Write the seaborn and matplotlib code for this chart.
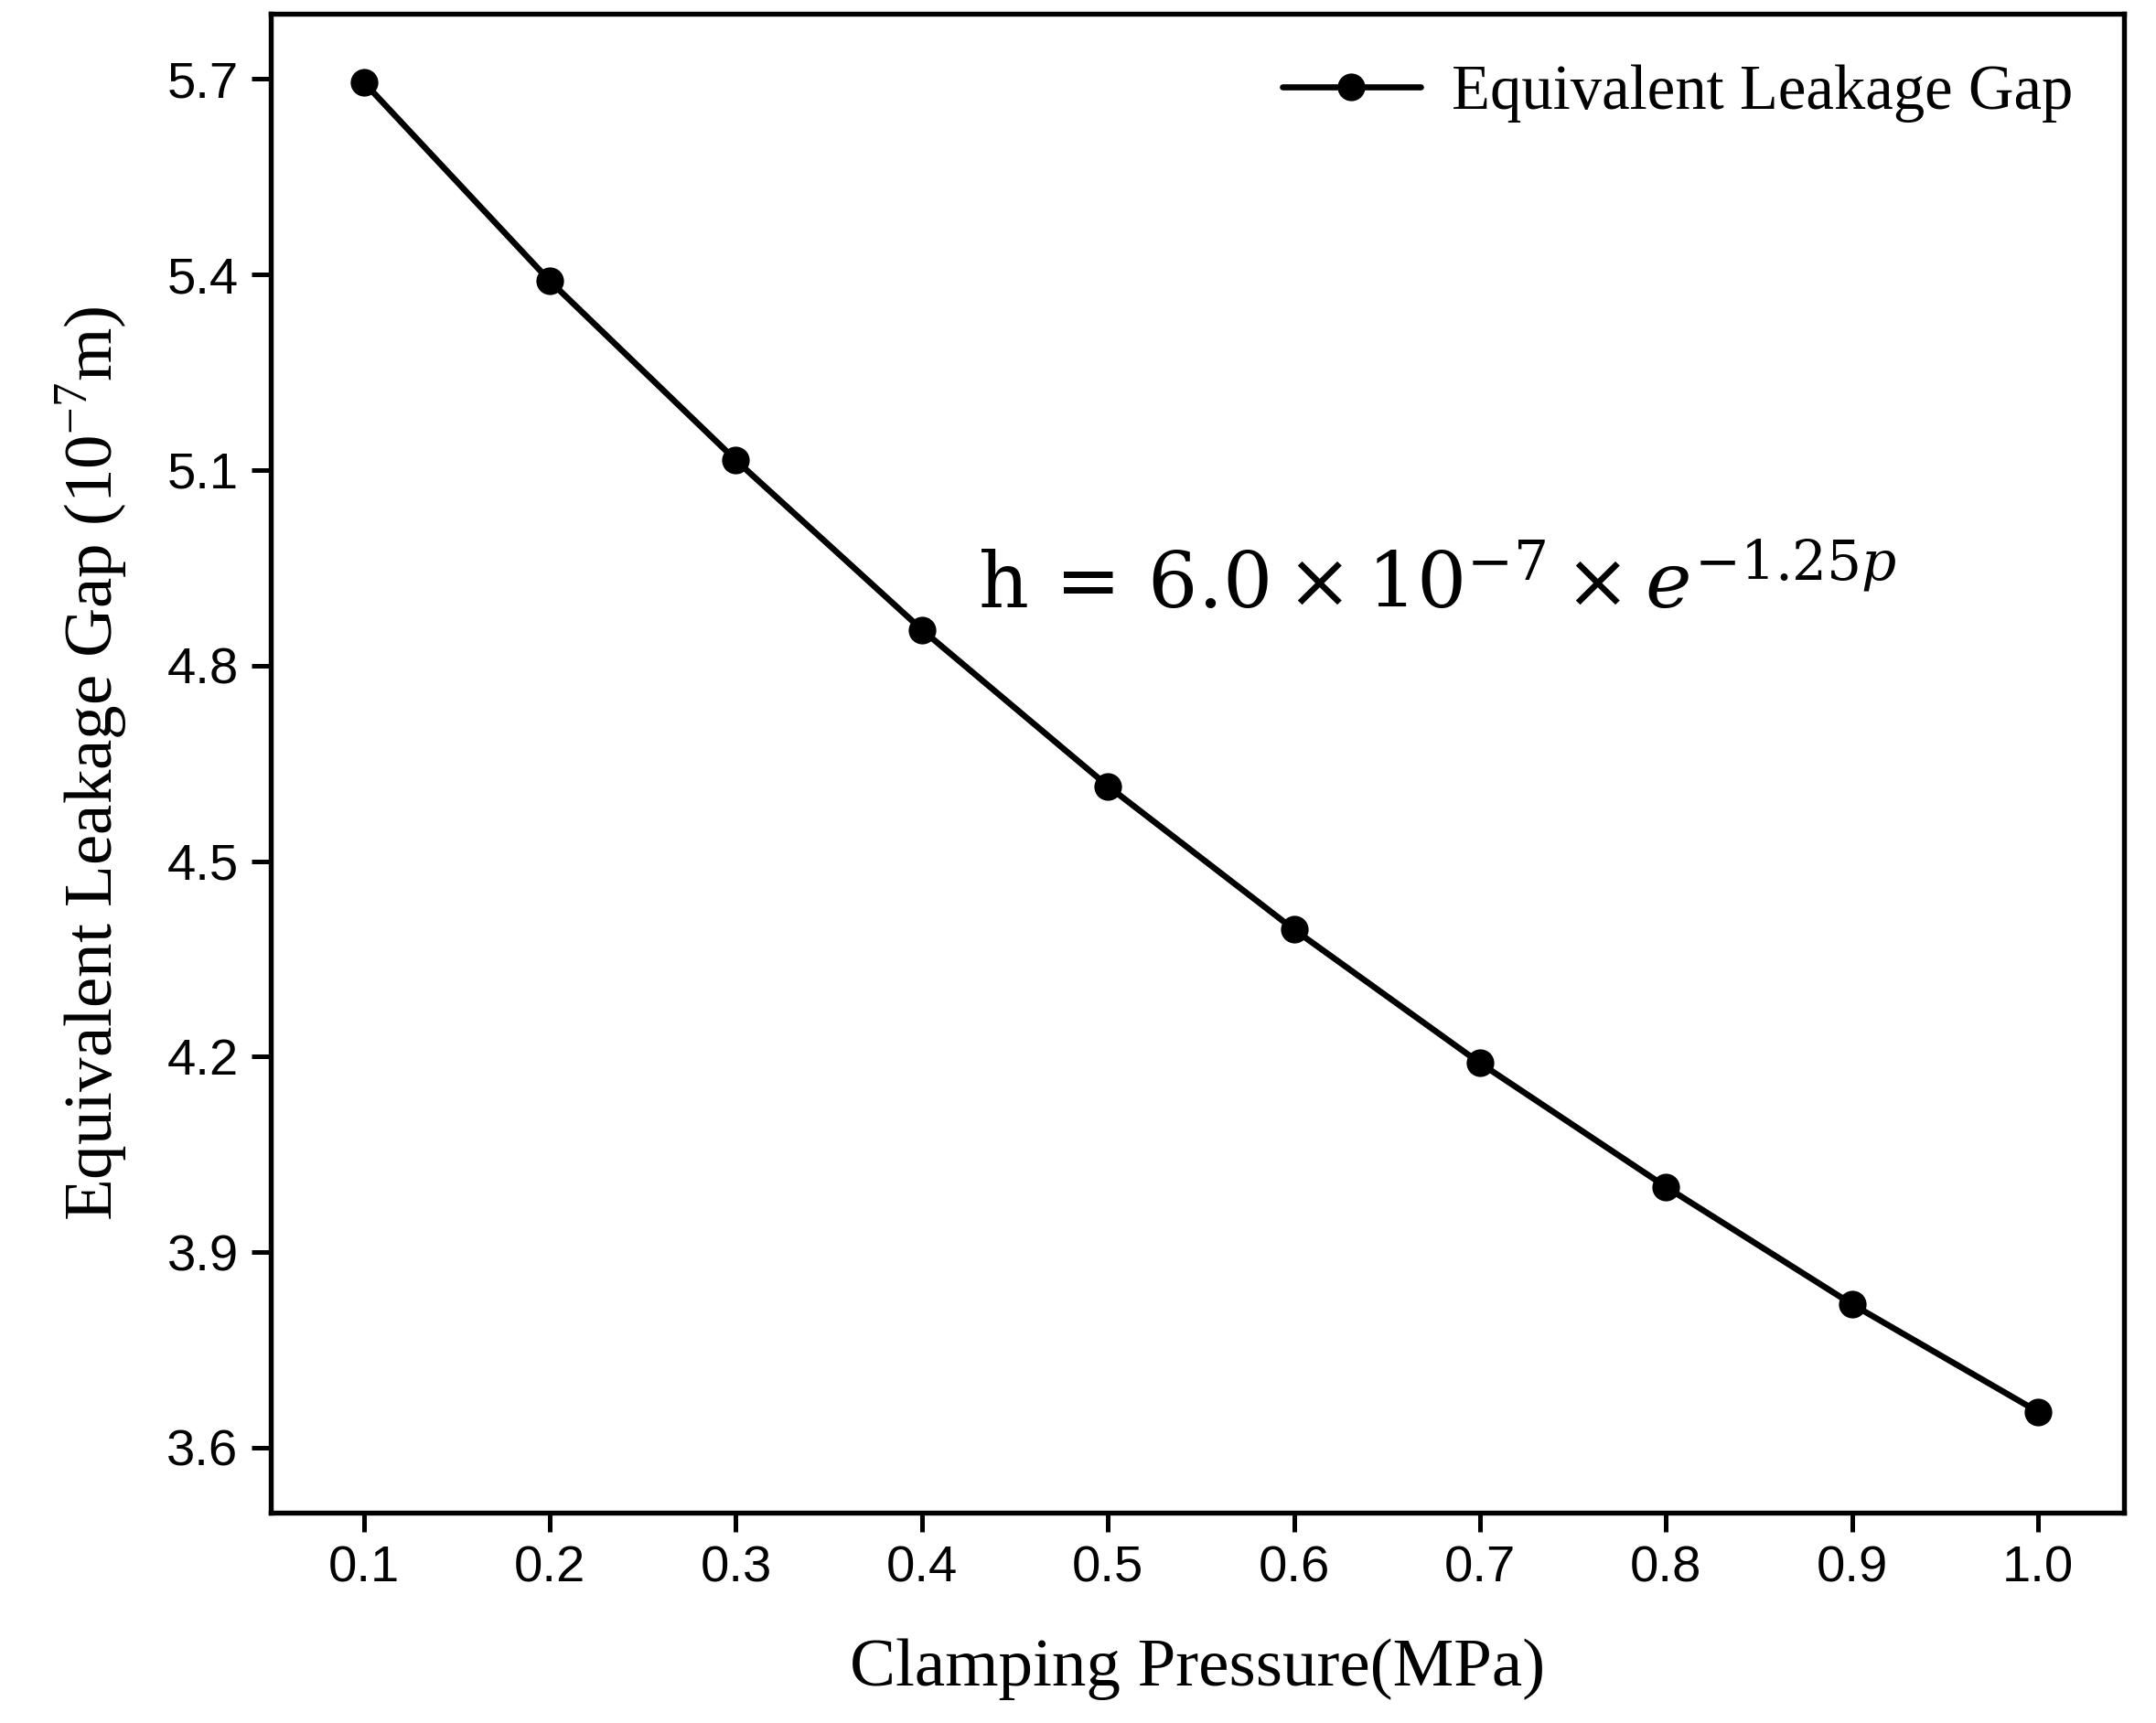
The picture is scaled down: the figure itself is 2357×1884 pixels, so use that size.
import matplotlib
matplotlib.use("Agg")
import matplotlib.pyplot as plt
import seaborn as sns
import pandas as pd

pressure = [0.1, 0.2, 0.3, 0.4, 0.5, 0.6, 0.7, 0.8, 0.9, 1.0]
gap = [5.695, 5.39, 5.115, 4.855, 4.615, 4.395, 4.19, 4.0, 3.82, 3.655]
xticks = [0.1, 0.2, 0.3, 0.4, 0.5, 0.6, 0.7, 0.8, 0.9, 1.0]
yticks = [3.6, 3.9, 4.2, 4.5, 4.8, 5.1, 5.4, 5.7]

sns.set_style("ticks")
plt.rcParams['font.family'] = ['Liberation Sans', 'DejaVu Sans']
plt.rcParams['mathtext.fontset'] = 'dejavuserif'
plt.rcParams['text.color'] = 'black'
plt.rcParams['axes.labelcolor'] = 'black'
plt.rcParams['xtick.color'] = 'black'
plt.rcParams['ytick.color'] = 'black'

df = pd.DataFrame({'p': pressure, 'h': gap})

fig = plt.figure(figsize=(2357 / 300, 1884 / 300), dpi=300)
ax = fig.add_axes([0.1256, 0.122, 0.985 - 0.1256, 0.992 - 0.122])
sns.lineplot(data=df, x='p', y='h', ax=ax, color='black', linewidth=1.6,
             marker='o', markersize=6.5, markeredgecolor='black',
             label='Equivalent Leakage Gap')

ax.set_xlim(0.05, 1.046)
ax.set_ylim(3.50, 5.80)
ax.set_xticks(xticks)
ax.set_xticklabels([f'{v:.1f}' for v in xticks])
ax.set_yticks(yticks)
ax.set_yticklabels([f'{v:.1f}' for v in yticks])
ax.tick_params(direction='out', length=5, width=1.2, labelsize=13.5, colors='black')
for s in ax.spines.values():
    s.set_linewidth(1.3)
    s.set_color('black')

ax.set_xlabel('Clamping Pressure(MPa)', family='Liberation Serif', fontsize=18, labelpad=12)
ax.set_ylabel('Equivalent Leakage Gap (10$^{\\mathregular{-7}}$m)', family='Liberation Serif',
              fontsize=18, labelpad=10)

ax.text(0.43, 4.92, r'$\mathrm{h}\,=\,6.0\times10^{-7}\times e^{-1.25p}$',
        fontsize=20.5, ha='left', va='center')

leg = ax.legend(loc='upper right', frameon=False, prop={'family': 'Liberation Serif', 'size': 16.5},
                handlelength=2.2, borderaxespad=0.4, handletextpad=0.5)

fig.savefig('out.png', dpi=300)
